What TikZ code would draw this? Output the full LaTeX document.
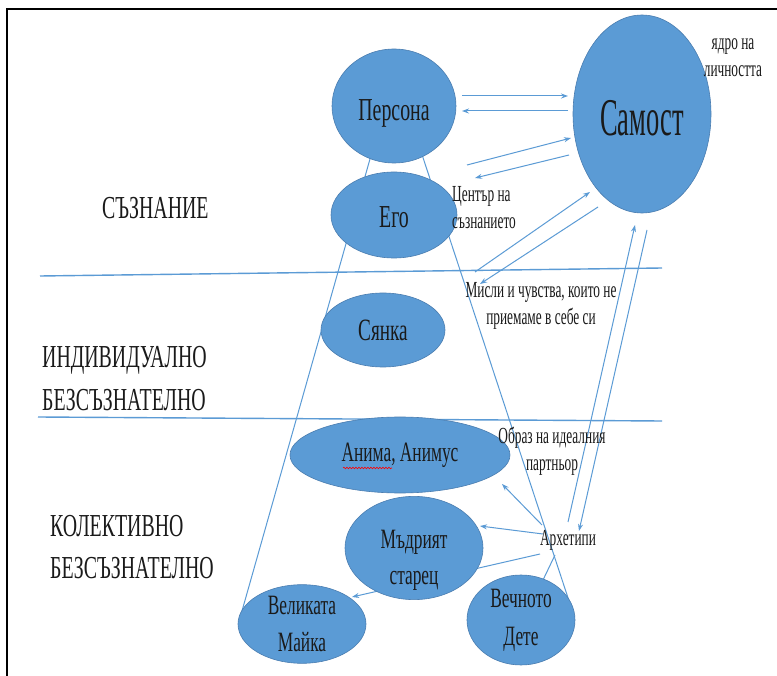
\documentclass[tikz,border=0pt]{standalone}
\usepackage{fontspec}
\setmainfont[FakeStretch=0.62]{Liberation Serif}
\newfontfamily\selffont[FakeStretch=0.5]{Liberation Serif}
\newfontfamily\notefont[FakeStretch=0.58]{Liberation Serif}
\usetikzlibrary{arrows.meta,decorations.pathmorphing,shapes.geometric}
\definecolor{ellfill}{HTML}{5B9BD5}
\definecolor{elldraw}{HTML}{4A7DB0}
\definecolor{lnblue}{HTML}{5B9BD5}
\definecolor{txt}{HTML}{1A1A1A}
\newcommand\lowerby[2]{\raisebox{-#1}[\height][\depth]{#2}}
\begin{document}
\begin{tikzpicture}[x=1pt,y=-1pt,
  ell/.style={ellipse,fill=ellfill,draw=elldraw,line width=0.6pt,inner sep=0pt,text=txt,align=center},
  conn/.style={draw=lnblue,line width=1pt},
  arr/.style={conn,-{Stealth[length=7pt,width=5pt]}},
  sep/.style={draw=lnblue,line width=1.4pt},
  big/.style={font=\fontsize{32}{38}\selectfont,text=txt,inner sep=0pt},
  small/.style={font=\notefont\fontsize{23}{27}\selectfont,text=txt,inner sep=0pt,align=center},
]
\useasboundingbox (0,0) rectangle (777,676);
\fill[white] (0,0) rectangle (777,676);
% frame
\coordinate (f1) at (777,9);
\coordinate (f2) at (7,9);
\coordinate (f3) at (7,676);
\draw[line width=2pt,black] (f1) -- (f2) -- (f3);

% separators
\coordinate (s1a) at (40,276); \coordinate (s1b) at (662,268);
\coordinate (s2a) at (38,417); \coordinate (s2b) at (662,421);
\draw[sep] (s1a) -- (s1b);
\draw[sep] (s2a) -- (s2b);

% trapezoid lines (behind ellipses)
\coordinate (tl) at (385,106); \coordinate (bl) at (240,618);
\coordinate (tr) at (406,106); \coordinate (br) at (572,610);
\draw[conn] (tl) -- (bl);
\draw[conn] (tr) -- (br);

% lines from Archetypes drawn behind ellipses
\coordinate (ar3) at (540,554); \coordinate (ma) at (352,597);
\coordinate (ar4) at (555,555); \coordinate (ch) at (543,580);
\draw[arr] (ar3) -- (ma);
\draw[conn] (ar4) -- (ch);

% ellipses
\node[ell,minimum width=124pt,minimum height=114pt,font=\fontsize{32}{38}\selectfont] (persona) at (394,106) {\lowerby{7pt}{Персона}};
\node[ell,minimum width=126pt,minimum height=86pt,font=\fontsize{32}{38}\selectfont] (ego) at (394,215) {\lowerby{2pt}{Его}};
\node[ell,minimum width=138pt,minimum height=198pt,font=\selffont\fontsize{53}{60}\selectfont] (self) at (642,114) {\lowerby{4pt}{Самост}};
\node[ell,minimum width=124pt,minimum height=74pt,font=\fontsize{31}{38}\selectfont] (shadow) at (383,330) {Сянка};
\node[ell,minimum width=220pt,minimum height=76pt,font=\fontsize{28}{37}\selectfont] (anima) at (400,455) {Анима, Анимус};
\node[ell,minimum width=138pt,minimum height=100pt,font=\fontsize{28}{37}\selectfont] (wise) at (414,548) {\lowerby{11pt}{\begin{tabular}{@{}c@{}}Мъдрият\\[-1pt]старец\end{tabular}}};
\node[ell,minimum width=128pt,minimum height=78pt,font=\fontsize{28}{37}\selectfont] (mother) at (302,624) {Великата\\Майка};
\node[ell,minimum width=108pt,minimum height=90pt,font=\fontsize{28}{38}\selectfont] (child) at (521,620) {Вечното\\Дете};

% spell-check underline
\coordinate (u1) at (343,468); \coordinate (u2) at (392,468);
\draw[red,line width=0.6pt,decorate,decoration={snake,segment length=3pt,amplitude=0.8pt}] (u1) -- (u2);

% arrows Persona/Ego <-> Self
\coordinate (p1) at (462,96);  \coordinate (q1) at (568,96);
\coordinate (p2) at (568,111); \coordinate (q2) at (462,111);
\coordinate (p3) at (467,165); \coordinate (q3) at (571,138);
\coordinate (p4) at (569,155); \coordinate (q4) at (475,178);
\coordinate (p5) at (475,272); \coordinate (q5) at (590,192);
\coordinate (p6) at (598,207); \coordinate (q6) at (480,284);
\draw[arr] (p1) -- (q1);
\draw[arr] (p2) -- (q2);
\draw[arr] (p3) -- (q3);
\draw[arr] (p4) -- (q4);
\draw[arr] (p5) -- (q5);
\draw[arr] (p6) -- (q6);

% Archetypes <-> Self and to Anima / Wise old man
\coordinate (p7) at (568,522); \coordinate (q7) at (635,225);
\coordinate (p8) at (647,230); \coordinate (q8) at (579,531);
\coordinate (p9) at (542,525); \coordinate (q9) at (502,484);
\coordinate (p10) at (543,534); \coordinate (q10) at (480,526);
\draw[arr] (p7) -- (q7);
\draw[arr] (p8) -- (q8);
\draw[arr] (p9) -- (q9);
\draw[arr] (p10) -- (q10);

% annotations
\node[small] (core) at (733,58) {ядро на\\личността};
\node[small,align=left,anchor=west] (center) at (452,208) {Център на\\съзнанието};
\node[small] (thoughts) at (541,306) {Мисли и чувства, които не\\приемаме в себе си};
\node[small] (ideal) at (552,451) {Образ на идеалния\\партньор};
\node[small] (arch) at (568,540) {Архетипи};

% region labels
\node[big,anchor=base west] (l1) at (102,219) {СЪЗНАНИЕ};
\node[big,anchor=base west] (l2) at (42,368) {ИНДИВИДУАЛНО};
\node[big,anchor=base west] (l3) at (42,411) {БЕЗСЪЗНАТЕЛНО};
\node[big,anchor=base west] (l4) at (50,536) {КОЛЕКТИВНО};
\node[big,anchor=base west] (l5) at (50,578) {БЕЗСЪЗНАТЕЛНО};
\end{tikzpicture}
\end{document}
